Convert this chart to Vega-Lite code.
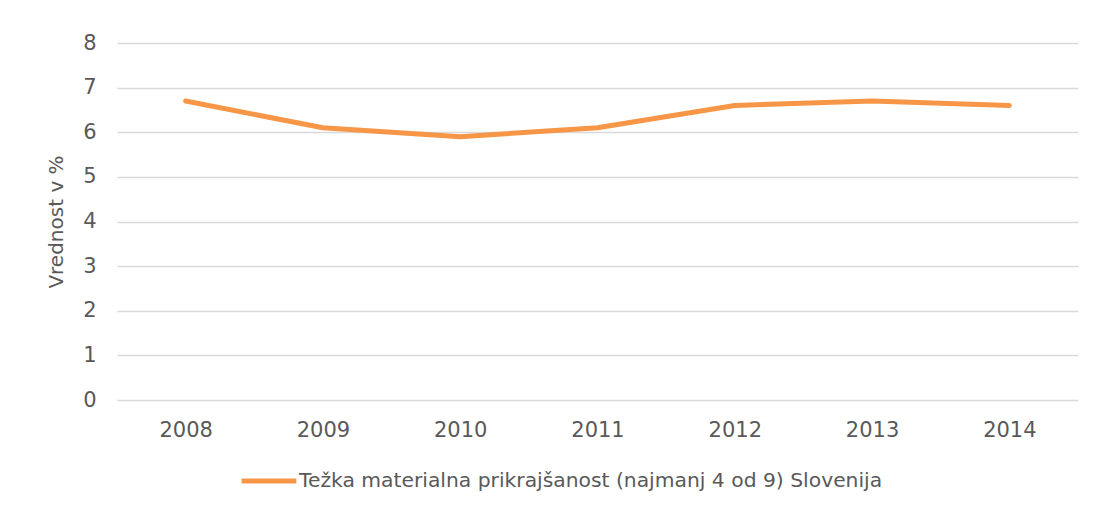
{
  "$schema": "https://vega.github.io/schema/vega-lite/v6.json",
  "autosize": "none",
  "width": 961,
  "height": 357,
  "padding": {"left": 117, "top": 43, "right": 16, "bottom": 108},
  "background": "white",
  "config": {
    "view": {"stroke": null},
    "font": "DejaVu Sans"
  },
  "data": {
    "values": [
      {"leto": "2008", "vrednost": 6.7, "serija": "Težka materialna prikrajšanost (najmanj 4 od 9) Slovenija"},
      {"leto": "2009", "vrednost": 6.1, "serija": "Težka materialna prikrajšanost (najmanj 4 od 9) Slovenija"},
      {"leto": "2010", "vrednost": 5.9, "serija": "Težka materialna prikrajšanost (najmanj 4 od 9) Slovenija"},
      {"leto": "2011", "vrednost": 6.1, "serija": "Težka materialna prikrajšanost (najmanj 4 od 9) Slovenija"},
      {"leto": "2012", "vrednost": 6.6, "serija": "Težka materialna prikrajšanost (najmanj 4 od 9) Slovenija"},
      {"leto": "2013", "vrednost": 6.7, "serija": "Težka materialna prikrajšanost (najmanj 4 od 9) Slovenija"},
      {"leto": "2014", "vrednost": 6.6, "serija": "Težka materialna prikrajšanost (najmanj 4 od 9) Slovenija"}
    ]
  },
  "mark": {"type": "line", "strokeWidth": 5, "strokeCap": "round", "strokeJoin": "round"},
  "encoding": {
    "x": {
      "field": "leto",
      "type": "ordinal",
      "scale": {"type": "point", "padding": 0.5},
      "axis": {
        "title": null,
        "labelAngle": 0,
        "labelFontSize": 21,
        "labelColor": "#595959",
        "labelPadding": 19,
        "domain": false,
        "ticks": false,
        "grid": false
      }
    },
    "y": {
      "field": "vrednost",
      "type": "quantitative",
      "scale": {"domain": [0, 8], "nice": false},
      "axis": {
        "title": "Vrednost v %",
        "titleFontSize": 20,
        "titleFontWeight": "normal",
        "titleColor": "#595959",
        "titlePadding": 16,
        "values": [0, 1, 2, 3, 4, 5, 6, 7, 8],
        "labelFontSize": 21,
        "labelColor": "#595959",
        "labelPadding": 21,
        "domain": false,
        "ticks": false,
        "grid": true,
        "gridColor": "#d9d9d9",
        "gridWidth": 1.5
      }
    },
    "color": {
      "field": "serija",
      "type": "nominal",
      "scale": {"range": ["#F79646"]},
      "legend": {
        "title": null,
        "orient": "none",
        "legendX": 122,
        "legendY": 408,
        "symbolType": "stroke",
        "symbolSize": 3000,
        "symbolStrokeWidth": 5,
        "labelFontSize": 20.3,
        "labelColor": "#595959",
        "labelOffset": 0,
        "labelLimit": 800
      }
    }
  }
}
